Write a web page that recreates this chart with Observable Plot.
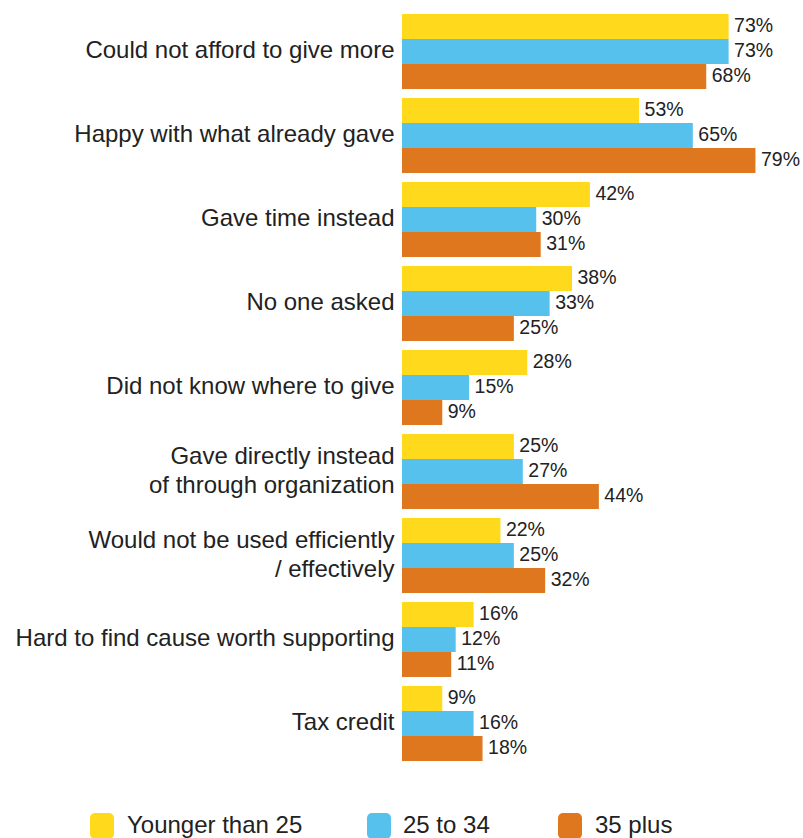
<!DOCTYPE html>
<html>
<head>
<meta charset="utf-8">
<script src="https://cdn.jsdelivr.net/npm/d3@7"></script>
<script src="https://cdn.jsdelivr.net/npm/@observablehq/plot@0.6"></script>
<style>
  body { margin: 0; background: #fff; font-family: "Liberation Sans", Arial, sans-serif; }
  #chart { width: 803px; }
  .legend { position: relative; height: 75px; width: 803px; }
  .legend .sw { position: absolute; top: 50px; width: 24px; height: 26px; border-radius: 5px; }
  .legend .lb { position: absolute; top: 49px; font-size: 24px; color: #222; line-height: 26px; }
</style>
</head>
<body>
<div id="chart"></div>
<script>
const categories = [
  "Could not afford to give more",
  "Happy with what already gave",
  "Gave time instead",
  "No one asked",
  "Did not know where to give",
  "Gave directly instead\nof through organization",
  "Would not be used efficiently\n/ effectively",
  "Hard to find cause worth supporting",
  "Tax credit"
];
const seriesNames = ["Younger than 25", "25 to 34", "35 plus"];
const younger = [73, 53, 42, 38, 28, 25, 22, 16, 9];
const age25to34 = [73, 65, 30, 33, 15, 27, 25, 12, 16];
const age35plus = [68, 79, 31, 25, 9, 44, 32, 11, 18];
const colors = ["#FFD91C", "#55C1EC", "#DE771D"];

const seriesValues = [younger, age25to34, age35plus];
const data = [];
categories.forEach((c, i) => {
  seriesNames.forEach((s, j) => {
    data.push({category: c, series: s, value: seriesValues[j][i]});
  });
});

const plot = Plot.plot({
  width: 803,
  height: 763,
  marginLeft: 402,
  marginRight: 0,
  marginTop: 12,
  marginBottom: 0,
  style: {fontFamily: '"Liberation Sans", Arial, sans-serif', color: "#222", background: "#fff"},
  x: {domain: [0, 100], range: [402, 402 + 447.4], axis: null},
  y: {domain: seriesNames, padding: 0, axis: null},
  fy: {domain: categories, paddingInner: 0.107, paddingOuter: 0, label: null},
  color: {domain: seriesNames, range: colors},
  marks: [
    Plot.axisFy({anchor: "left", tickSize: 0, tickPadding: 8, fontSize: 24, lineHeight: 1.22, dy: -3, label: null}),
    Plot.barX(data, {x: "value", y: "series", fy: "category", fill: "series"}),
    Plot.text(data, {x: "value", y: "series", fy: "category", text: d => d.value + "%", dx: 5, dy: -1.5, textAnchor: "start", fontSize: 19.5, fill: "#222"})
  ]
});
document.getElementById("chart").appendChild(plot);

const legend = document.createElement("div");
legend.className = "legend";
const swX = [90, 367, 558];
const lbX = [127, 403, 595];
seriesNames.forEach((s, i) => {
  const sw = document.createElement("div");
  sw.className = "sw";
  sw.style.left = swX[i] + "px";
  sw.style.background = colors[i];
  legend.appendChild(sw);
  const lb = document.createElement("div");
  lb.className = "lb";
  lb.style.left = lbX[i] + "px";
  lb.textContent = s;
  legend.appendChild(lb);
});
document.body.appendChild(legend);
</script>
</body>
</html>
